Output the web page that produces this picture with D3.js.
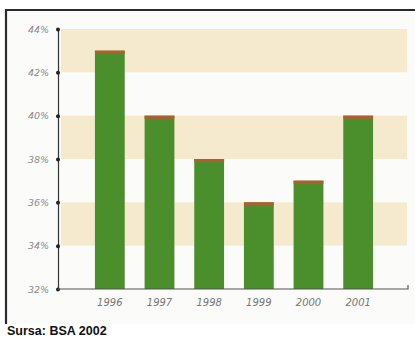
<!DOCTYPE html>
<html><head><meta charset="utf-8">
<script src="https://cdn.jsdelivr.net/npm/d3@7"></script>
<style>body{margin:0;background:#fff}svg{display:block}</style>
</head><body>
<script>
const years = ["1996","1997","1998","1999","2000","2001"];
const values = [43, 40, 38, 36, 37, 40];
const yTicks = [32, 34, 36, 38, 40, 42, 44];
const bands = [[42,44],[38,40],[34,36]];
const source = "Sursa: BSA 2002";

const W = 415, H = 338;
const svg = d3.select("body").append("svg").attr("width", W).attr("height", H);
svg.append("rect").attr("x",6).attr("y",10).attr("width",W-6).attr("height",314).attr("fill","#fbfbf9");

const y = d3.scaleLinear().domain([32,44]).range([289,29]);
const x = d3.scaleBand().domain(years).range([85,383]).paddingInner(0.4).paddingOuter(0.2);

svg.selectAll("rect.band").data(bands).enter().append("rect")
  .attr("x",61).attr("width",346)
  .attr("y",d=>y(d[1])).attr("height",d=>y(d[0])-y(d[1]))
  .attr("fill","#f5eace");

svg.selectAll("rect.bar").data(values).enter().append("rect")
  .attr("x",(d,i)=>x(years[i])).attr("width",x.bandwidth())
  .attr("y",d=>y(d)).attr("height",d=>y(32)-y(d))
  .attr("fill","#4b8f2c");
svg.selectAll("rect.cap").data(values).enter().append("rect")
  .attr("x",(d,i)=>x(years[i])).attr("width",x.bandwidth())
  .attr("y",d=>y(d)).attr("height",3)
  .attr("fill","#b85a30");

// y axis
const yAxis = d3.axisLeft(y).tickValues(yTicks).tickSize(0).tickFormat(d=>d+"%").tickPadding(8);
const gy = svg.append("g").attr("transform","translate(58,0)").call(yAxis);
gy.select(".domain").attr("stroke","#333").attr("stroke-width",1.2);
gy.selectAll(".tick text").attr("font-family","DejaVu Sans, sans-serif").attr("font-style","italic")
  .attr("font-size",9.5).attr("fill","#8a8a8a").attr("dx",-1);
gy.selectAll(".tick").append("circle").attr("r",2).attr("fill","#222");

// x axis
const xAxis = d3.axisBottom(x).tickSize(0).tickPadding(8);
const gx = svg.append("g").attr("transform","translate(0,289)").call(xAxis);
gx.select(".domain").remove();
svg.append("path").attr("d",`M58,289H408V285`).attr("fill","none").attr("stroke","#555").attr("stroke-width",1.2);
gx.selectAll(".tick text").attr("font-family","DejaVu Sans, sans-serif").attr("font-style","italic")
  .attr("font-size",10).attr("fill","#777").attr("dy","0.9em");

// frame
svg.append("path").attr("d",`M6,324V10H${W}`).attr("fill","none").attr("stroke","#2a2a2a").attr("stroke-width",2.2);

svg.append("text").attr("x",7).attr("y",335).text(source)
  .attr("font-family","Liberation Sans Narrow, Arial Narrow, sans-serif").attr("font-weight","bold")
  .attr("font-size",12.5).attr("fill","#111");
</script>
</body></html>
